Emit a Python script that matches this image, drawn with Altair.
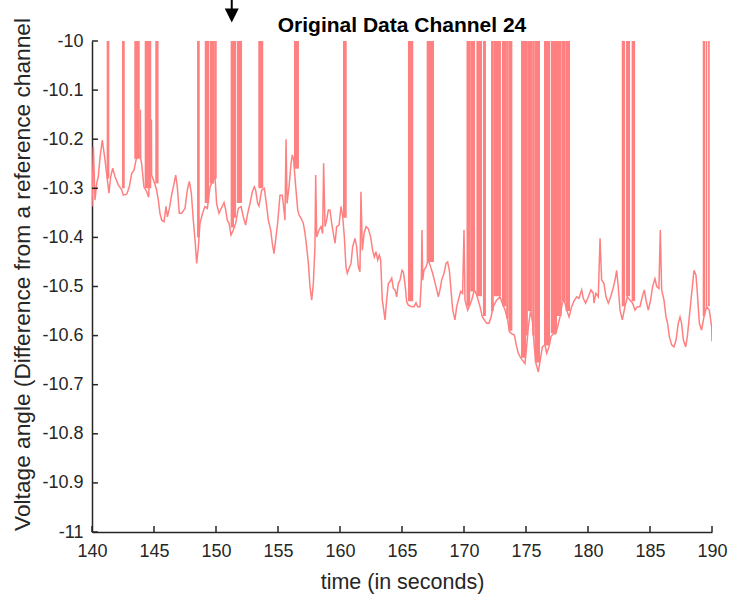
import altair as alt
import pandas as pd

# ---- data ----
line_t = [140.00, 140.11, 140.24, 140.38, 140.51, 140.65, 140.83, 141.05, 141.24, 141.37,
          141.51, 141.67, 141.85, 142.12, 142.39, 142.53, 142.80, 143.01, 143.20, 143.39,
          143.60, 143.87, 143.90, 143.93, 144.00, 144.19, 144.41, 144.57, 144.79, 144.81,
          145.00, 145.21, 145.35, 145.48, 145.62, 145.81, 145.97, 146.08, 146.24, 146.42,
          146.56, 146.75, 146.88, 147.04, 147.23, 147.50, 147.69, 147.85, 148.01, 148.17,
          148.33, 148.44, 148.58, 148.71, 148.92, 149.11, 149.30, 149.52, 149.75, 149.92,
          150.05, 150.24, 150.46, 150.65, 150.78, 150.91, 151.05, 151.21, 151.40, 151.59,
          151.80, 152.02, 152.20, 152.39, 152.53, 152.74, 152.93, 153.09, 153.20, 153.36,
          153.47, 153.68, 153.90, 154.09, 154.22, 154.41, 154.54, 154.68, 154.81, 154.97,
          155.16, 155.35, 155.51, 155.56, 155.65, 155.73, 155.89, 156.05, 156.16, 156.26,
          156.43, 156.59, 156.69, 156.86, 157.04, 157.18, 157.31, 157.45, 157.58, 157.72,
          157.85, 157.98, 158.04, 158.12, 158.31, 158.47, 158.60, 158.68, 158.79, 158.92,
          159.06, 159.19, 159.33, 159.46, 159.60, 159.73, 159.92, 160.08, 160.22, 160.35,
          160.48, 160.59, 160.73, 160.89, 161.02, 161.21, 161.34, 161.48, 161.61, 161.69,
          161.80, 161.94, 162.10, 162.28, 162.47, 162.63, 162.77, 162.90, 163.04, 163.17,
          163.28, 163.41, 163.49, 163.63, 163.76, 163.90, 164.03, 164.17, 164.30, 164.44,
          164.57, 164.70, 164.84, 165.00, 165.11, 165.24, 165.38, 165.51, 165.78, 165.97,
          166.13, 166.26, 166.45, 166.56, 166.61, 166.67, 166.77, 166.94, 167.12, 167.31,
          167.47, 167.61, 167.80, 167.93, 168.06, 168.20, 168.39, 168.55, 168.68, 168.82,
          168.95, 169.09, 169.27, 169.41, 169.54, 169.73, 169.89, 170.00, 170.08, 170.30,
          170.62, 170.83, 171.02, 171.29, 171.48, 171.64, 171.83, 172.02, 172.18, 172.36,
          172.63, 172.90, 173.09, 173.31, 173.52, 173.66, 173.84, 174.06, 174.25, 174.38,
          174.52, 174.70, 174.92, 175.05, 175.19, 175.38, 175.54, 175.67, 175.81, 175.99,
          176.15, 176.32, 176.53, 176.67, 176.85, 177.02, 177.20, 177.39, 177.55, 177.74,
          177.93, 178.09, 178.28, 178.47, 178.68, 178.90, 179.09, 179.27, 179.49, 179.62,
          179.81, 180.03, 180.24, 180.43, 180.48, 180.64, 180.83, 180.97, 181.10, 181.29,
          181.45, 181.64, 181.83, 181.99, 182.18, 182.31, 182.44, 182.58, 182.77, 182.98,
          183.17, 183.39, 183.60, 183.79, 183.98, 184.19, 184.38, 184.54, 184.68, 184.86,
          185.05, 185.21, 185.40, 185.54, 185.72, 185.83, 185.94, 186.13, 186.29, 186.42,
          186.56, 186.75, 186.93, 187.10, 187.28, 187.42, 187.55, 187.69, 187.88, 188.01,
          188.17, 188.36, 188.55, 188.71, 188.82, 188.98, 189.16, 189.35, 189.57, 189.78,
          189.97, 190.00]
line_v = [-10.337, -10.215, -10.324, -10.290, -10.276, -10.236, -10.202, -10.242, -10.283, -10.310,
          -10.276, -10.259, -10.276, -10.293, -10.303, -10.314, -10.312, -10.297, -10.270, -10.263,
          -10.236, -10.236, -10.140, -10.240, -10.249, -10.297, -10.307, -10.318, -10.160, -10.273,
          -10.286, -10.303, -10.324, -10.351, -10.365, -10.368, -10.337, -10.358, -10.341, -10.314,
          -10.297, -10.273, -10.297, -10.351, -10.351, -10.341, -10.303, -10.286, -10.310, -10.365,
          -10.412, -10.453, -10.419, -10.371, -10.351, -10.337, -10.341, -10.297, -10.285, -10.275,
          -10.331, -10.351, -10.339, -10.329, -10.344, -10.365, -10.371, -10.395, -10.385, -10.371,
          -10.341, -10.337, -10.358, -10.375, -10.354, -10.331, -10.307, -10.297, -10.304, -10.331,
          -10.336, -10.304, -10.300, -10.337, -10.365, -10.385, -10.412, -10.433, -10.405, -10.371,
          -10.314, -10.314, -10.351, -10.365, -10.200, -10.331, -10.297, -10.249, -10.232, -10.242,
          -10.297, -10.344, -10.354, -10.361, -10.371, -10.392, -10.419, -10.453, -10.500, -10.528,
          -10.494, -10.419, -10.273, -10.399, -10.385, -10.378, -10.392, -10.249, -10.378, -10.365,
          -10.344, -10.344, -10.371, -10.392, -10.412, -10.378, -10.375, -10.337, -10.358, -10.399,
          -10.460, -10.473, -10.463, -10.453, -10.419, -10.402, -10.419, -10.460, -10.470, -10.307,
          -10.426, -10.392, -10.378, -10.382, -10.399, -10.426, -10.440, -10.429, -10.446, -10.436,
          -10.446, -10.528, -10.541, -10.568, -10.528, -10.494, -10.490, -10.483, -10.504, -10.507,
          -10.521, -10.494, -10.487, -10.467, -10.470, -10.494, -10.531, -10.538, -10.541, -10.541,
          -10.533, -10.541, -10.541, -10.487, -10.385, -10.487, -10.467, -10.460, -10.446, -10.460,
          -10.473, -10.487, -10.507, -10.521, -10.507, -10.487, -10.473, -10.453, -10.450, -10.467,
          -10.507, -10.548, -10.568, -10.541, -10.528, -10.510, -10.514, -10.385, -10.528, -10.548,
          -10.528, -10.507, -10.517, -10.541, -10.562, -10.568, -10.575, -10.575, -10.562, -10.541,
          -10.528, -10.521, -10.534, -10.548, -10.568, -10.592, -10.596, -10.599, -10.623, -10.636,
          -10.643, -10.650, -10.657, -10.623, -10.582, -10.548, -10.575, -10.623, -10.657, -10.674,
          -10.650, -10.623, -10.619, -10.636, -10.623, -10.602, -10.596, -10.596, -10.582, -10.562,
          -10.534, -10.528, -10.548, -10.562, -10.541, -10.528, -10.521, -10.524, -10.507, -10.524,
          -10.534, -10.521, -10.507, -10.514, -10.534, -10.514, -10.521, -10.402, -10.487, -10.494,
          -10.521, -10.534, -10.521, -10.507, -10.487, -10.467, -10.500, -10.548, -10.568, -10.541,
          -10.521, -10.528, -10.534, -10.548, -10.541, -10.541, -10.521, -10.507, -10.528, -10.548,
          -10.528, -10.500, -10.484, -10.500, -10.504, -10.385, -10.507, -10.528, -10.562, -10.575,
          -10.602, -10.619, -10.623, -10.609, -10.575, -10.562, -10.575, -10.609, -10.623, -10.602,
          -10.562, -10.514, -10.467, -10.477, -10.514, -10.575, -10.589, -10.562, -10.541, -10.548,
          -10.582, -10.612]

# spike bursts that run off the top of the axes (start time, end time, lowest value)
band_start = [141.18, 142.42, 143.41, 144.25, 145.10, 148.47, 149.09, 149.50, 149.85, 151.18,
              151.45, 151.68, 153.41, 156.29, 160.24, 165.48, 166.99, 170.20, 170.50, 171.00,
              171.53, 172.18, 172.40, 173.06, 173.40, 173.60, 174.60, 175.00, 175.15, 175.50,
              175.70, 176.45, 177.00, 177.50, 177.90, 178.20, 182.72, 183.06, 183.52, 189.25,
              189.50, 189.68]
band_end = [141.40, 142.64, 143.85, 144.78, 145.37, 148.69, 149.45, 149.85, 150.06, 151.45,
            151.62, 152.10, 153.81, 156.69, 160.54, 165.91, 167.58, 170.50, 170.89, 171.45,
            171.77, 172.40, 172.98, 173.40, 173.60, 173.90, 175.00, 175.15, 175.50, 175.70,
            176.13, 176.94, 177.50, 177.88, 178.20, 178.55, 182.98, 183.39, 183.80, 189.45,
            189.62, 189.82]
band_bottom = [-10.28, -10.30, -10.24, -10.30, -10.29, -10.40, -10.33, -10.29, -10.28, -10.38,
               -10.36, -10.33, -10.30, -10.26, -10.36, -10.53, -10.45, -10.54, -10.51, -10.52,
               -10.56, -10.55, -10.52, -10.54, -10.565, -10.59, -10.645, -10.60, -10.55, -10.60,
               -10.655, -10.62, -10.595, -10.56, -10.53, -10.55, -10.54, -10.52, -10.53, -10.56,
               -10.54, -10.54]

x_ticks = [140, 145, 150, 155, 160, 165, 170, 175, 180, 185, 190]
y_ticks = [-11.0, -10.9, -10.8, -10.7, -10.6, -10.5, -10.4, -10.3, -10.2, -10.1, -10.0]

arrow_t = [151.27]

RED = "#FF8080"
AX = "#262626"
FONT = "Liberation Sans, Arial, Helvetica, sans-serif"

X_MIN, X_MAX = 140, 190
Y_MIN, Y_MAX = -11.0, -10.0
TICK_X = 0.48   # inward tick length in seconds (~6 px)
TICK_Y = 0.0122 # inward tick length in volts (~6 px)

line_df = pd.DataFrame({"t": line_t, "v": line_v})
band_df = pd.DataFrame({"start": band_start, "end": band_end, "bottom": band_bottom,
                        "top": [Y_MAX] * len(band_start)})
xt_df = pd.DataFrame({"x": x_ticks, "y0": [Y_MIN] * len(x_ticks),
                      "y1": [Y_MIN + TICK_Y] * len(x_ticks)})
yt_df = pd.DataFrame({"y": y_ticks, "x0": [X_MIN] * len(y_ticks),
                      "x1": [X_MIN + TICK_X] * len(y_ticks)})
arrow_df = pd.DataFrame({"t": arrow_t, "tail": [-9.9165], "neck": [-9.938], "head": [-9.948]})

xs = alt.Scale(domain=[X_MIN, X_MAX], nice=False, zero=False)
ys = alt.Scale(domain=[Y_MIN, Y_MAX], nice=False, zero=False)

x_axis = alt.Axis(values=x_ticks, title="time (in seconds)", ticks=False, grid=False,
                  domainColor=AX, domainWidth=1.5, labelColor=AX, labelFont=FONT,
                  labelFontSize=18, labelPadding=10, titleFont=FONT, titleFontSize=21.5,
                  titleFontWeight="normal", titleColor=AX, titleY=56,
                  titleBaseline="alphabetic", labelFlush=False,
                  labelExpr="replace(format(datum.value, 'd'), '\u2212', '-')")
y_axis = alt.Axis(values=y_ticks, title="Voltage angle (Difference from a reference channel",
                  ticks=False, grid=False, domainColor=AX, domainWidth=1.5, labelColor=AX,
                  labelFont=FONT, labelFontSize=18, labelPadding=9, labelFlush=False,
                  titleFont=FONT, titleFontSize=22.7, titleFontWeight="normal", titleColor=AX,
                  titleX=-63, titleY=233, titleBaseline="alphabetic", titleAngle=270,
                  labelExpr="replace(format(datum.value, '.1~f'), '\u2212', '-')")


def X(field):
    return alt.X(field, type="quantitative", scale=xs, axis=x_axis)


def Y(field):
    return alt.Y(field, type="quantitative", scale=ys, axis=y_axis)


bands = alt.Chart(band_df).mark_rect(color=RED, opacity=1, clip=True).encode(
    x=X("start"), x2="end", y=Y("bottom"), y2="top")

line = alt.Chart(line_df).mark_line(color=RED, strokeWidth=1.5, clip=True).encode(
    x=X("t"), y=Y("v"))

xticks = alt.Chart(xt_df).mark_rule(color=AX, strokeWidth=1.5).encode(
    x=X("x"), y=Y("y0"), y2="y1")
yticks = alt.Chart(yt_df).mark_rule(color=AX, strokeWidth=1.5).encode(
    y=Y("y"), x=X("x0"), x2="x1")

shaft = alt.Chart(arrow_df).mark_rule(color="black", strokeWidth=2).encode(
    x=X("t"), y=Y("tail"), y2="neck")
head = alt.Chart(arrow_df).mark_point(shape="M -1 -1 L 1 -1 L 0 1 Z", filled=True, size=196,
                                      color="black", opacity=1).encode(
    x=X("t"), y=Y("head"))

chart = alt.layer(bands, line, xticks, yticks, shaft, head).properties(
    width=620, height=491,
    autosize="none",
    padding={"left": 92, "top": 41, "right": 20, "bottom": 67},
    background="white",
    title=alt.TitleParams("Original Data Channel 24", font=FONT, fontSize=21,
                          fontWeight="bold", color="black", anchor="middle", frame="group",
                          baseline="alphabetic", offset=0, dy=54),
).configure_view(stroke=None, strokeWidth=0)

chart.save("out.html", embed_options={"renderer": "svg", "actions": False})
